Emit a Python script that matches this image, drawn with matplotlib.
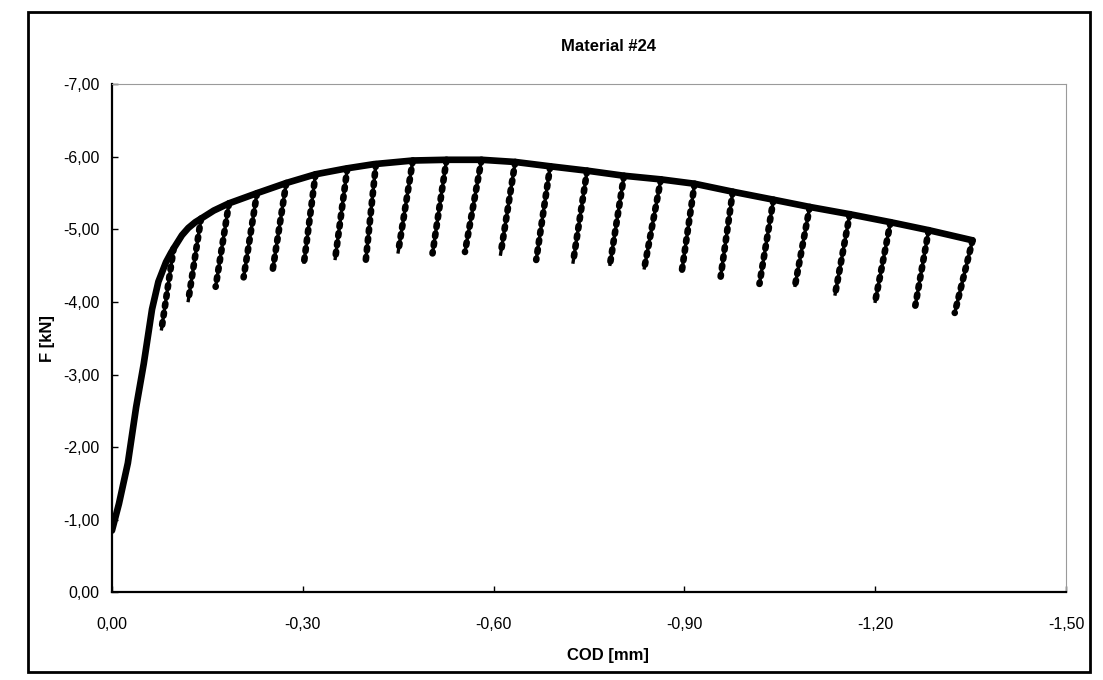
import matplotlib.pyplot as plt
from matplotlib.patches import Rectangle
from matplotlib.ticker import FuncFormatter

# loading envelope (COD [mm], F [kN])
env_x = [0.000, -0.011, -0.025, -0.038, -0.050, -0.063, -0.073, -0.085, -0.093,
         -0.100, -0.110, -0.120, -0.131, -0.142, -0.160, -0.184, -0.228, -0.274,
         -0.320, -0.368, -0.412, -0.473, -0.526, -0.581, -0.634, -0.689, -0.747,
         -0.805, -0.863, -0.916, -0.976, -1.040, -1.097, -1.160, -1.224, -1.284,
         -1.353]
env_f = [-0.85, -1.22, -1.78, -2.55, -3.15, -3.90, -4.28, -4.55, -4.68,
         -4.78, -4.92, -5.02, -5.10, -5.16, -5.26, -5.36, -5.50, -5.64,
         -5.76, -5.84, -5.90, -5.95, -5.96, -5.96, -5.93, -5.87, -5.81,
         -5.74, -5.69, -5.63, -5.52, -5.41, -5.31, -5.21, -5.10, -4.99,
         -4.85]

# unloading cycles: start on the envelope, end at the lowest point
top_x = [-0.097, -0.140, -0.184, -0.228, -0.274, -0.320, -0.370, -0.415,
         -0.473, -0.526, -0.581, -0.634, -0.689, -0.747, -0.805, -0.863,
         -0.916, -0.976, -1.040, -1.097, -1.160, -1.224, -1.284, -1.353]
top_f = [-4.74, -5.15, -5.36, -5.50, -5.64, -5.76, -5.84, -5.90,
         -5.95, -5.96, -5.96, -5.93, -5.87, -5.81, -5.74, -5.69,
         -5.63, -5.52, -5.41, -5.31, -5.21, -5.10, -4.99, -4.85]
bot_x = [-0.078, -0.120, -0.163, -0.207, -0.253, -0.302, -0.351, -0.399,
         -0.450, -0.504, -0.555, -0.611, -0.667, -0.725, -0.783, -0.837,
         -0.896, -0.957, -1.018, -1.074, -1.137, -1.200, -1.263, -1.325]
bot_f = [-3.63, -4.02, -4.21, -4.34, -4.46, -4.55, -4.60, -4.57,
         -4.69, -4.67, -4.69, -4.66, -4.58, -4.55, -4.52, -4.47,
         -4.43, -4.35, -4.25, -4.23, -4.11, -4.01, -3.95, -3.85]

x_ticks = [0.0, -0.3, -0.6, -0.9, -1.2, -1.5]
y_ticks = [0, -1, -2, -3, -4, -5, -6, -7]

plt.rcParams["font.family"] = ["Liberation Sans", "DejaVu Sans"]

fig = plt.figure(figsize=(11.03, 6.8), dpi=100)
ax = fig.add_axes([0.1015, 0.129, 0.865, 0.747])

ax.plot(env_x, env_f, color="black", lw=4.8, solid_capstyle="round",
        solid_joinstyle="round", zorder=3)
for tx, tf, bx, bf in zip(top_x, top_f, bot_x, bot_f):
    ax.plot([tx, bx], [tf, bf], color="black", lw=2.4, zorder=3)
    ax.plot([tx, bx], [tf, bf], color="black", lw=4.8,
            linestyle=(0, (0.4, 1.0)), dash_capstyle="round", zorder=3)

ax.set_xlim(0, -1.5)
ax.set_ylim(0, -7)
ax.set_xticks(x_ticks)
ax.set_yticks(y_ticks)
fmt = FuncFormatter(lambda v, p: f"{v:.2f}".replace(".", ",").replace("-0,00", "0,00"))
ax.xaxis.set_major_formatter(fmt)
ax.yaxis.set_major_formatter(fmt)
ax.tick_params(direction="in", length=4, width=1, labelsize=11.5, pad=9)
ax.tick_params(axis="x", pad=18)

for s in ["left", "bottom"]:
    ax.spines[s].set_linewidth(1.6)
for s in ["top", "right"]:
    ax.spines[s].set_color("#9a9a9a")
    ax.spines[s].set_linewidth(0.8)

ax.set_title("Material #24", fontsize=12, fontweight="bold", pad=24, x=0.52)
ax.set_xlabel("COD [mm]", fontsize=12, fontweight="bold", labelpad=11, x=0.52)
ax.set_ylabel("F [kN]", fontsize=12, fontweight="bold", labelpad=6)

fig.patches.append(Rectangle((0.025, 0.012), 0.963, 0.97, transform=fig.transFigure,
                             fill=False, edgecolor="black", lw=2))

fig.savefig("out.png", dpi=100)
